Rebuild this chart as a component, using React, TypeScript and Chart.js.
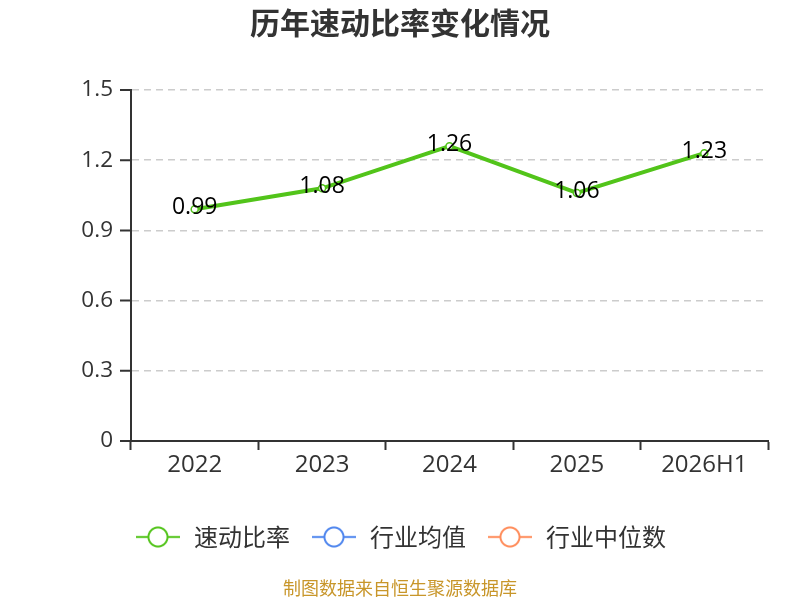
import React, { useEffect, useRef } from "react";
import { Chart, registerables } from "chart.js";

Chart.register(...registerables);

const categories = ["2022", "2023", "2024", "2025", "2026H1"];
const quickRatio = [0.99, 1.08, 1.26, 1.06, 1.23];
const industryAvg: (number | null)[] = [];
const industryMedian: (number | null)[] = [];
const yTicks = [0, 0.3, 0.6, 0.9, 1.2, 1.5];

const seriesNames = ["速动比率", "行业均值", "行业中位数"];
const seriesColors = ["#52c41a", "#4f86ee", "#ff8c5a"];

const FONT = "'Open Sans', 'Noto Sans CJK SC', sans-serif";
const CJK = "'Noto Sans CJK SC', sans-serif";

function makeIcon(color: string): HTMLCanvasElement {
  const scale = 3;
  const w = 44;
  const h = 24;
  const c = document.createElement("canvas");
  c.width = w * scale;
  c.height = h * scale;
  const ctx = c.getContext("2d")!;
  ctx.scale(scale, scale);
  ctx.strokeStyle = color;
  ctx.lineWidth = 2;
  ctx.beginPath();
  ctx.moveTo(0, h / 2);
  ctx.lineTo(w, h / 2);
  ctx.stroke();
  ctx.beginPath();
  ctx.arc(w / 2, h / 2, 9.5, 0, Math.PI * 2);
  ctx.fillStyle = "#fff";
  ctx.fill();
  ctx.stroke();
  const fin = document.createElement("canvas");
  fin.width = w;
  fin.height = h;
  const fctx = fin.getContext("2d")!;
  fctx.imageSmoothingQuality = "high";
  fctx.drawImage(c, 0, 0, w, h);
  return fin;
}

const dataLabelPlugin = {
  id: "dataLabels",
  afterDatasetsDraw(chart: any) {
    const ctx = chart.ctx;
    const meta = chart.getDatasetMeta(0);
    const values = chart.data.datasets[0].data;
    ctx.save();
    ctx.font = `23px ${FONT}`;
    ctx.fillStyle = "#000";
    ctx.textAlign = "center";
    ctx.textBaseline = "middle";
    meta.data.forEach((pt: any, i: number) => {
      ctx.fillText(values[i].toFixed(2), pt.x, pt.y - 2);
    });
    ctx.restore();
  },
};

const yAxisPlugin = {
  id: "yAxisTicks",
  afterDraw(chart: any) {
    const ctx = chart.ctx;
    const y = chart.scales.y;
    const area = chart.chartArea;
    ctx.save();
    ctx.strokeStyle = "#333";
    ctx.lineWidth = 2;
    ctx.beginPath();
    ctx.moveTo(area.left, area.top);
    ctx.lineTo(area.left, area.bottom);
    y.ticks.forEach((t: any) => {
      const py = y.getPixelForValue(t.value);
      ctx.moveTo(area.left - 11, py);
      ctx.lineTo(area.left, py);
    });
    ctx.stroke();
    ctx.restore();
  },
};

export default function App() {
  const ref = useRef<HTMLCanvasElement>(null);
  useEffect(() => {
    const icons = seriesColors.map(makeIcon);
    const chart = new Chart(ref.current!, {
      type: "line",
      data: {
        labels: categories,
        datasets: [
          {
            label: seriesNames[0],
            data: quickRatio,
            borderColor: seriesColors[0],
            backgroundColor: "#fff",
            borderWidth: 4,
            pointRadius: 3.5,
            pointBorderWidth: 1.5,
            pointBackgroundColor: "#fff",
            pointBorderColor: seriesColors[0],
            tension: 0,
          },
          {
            label: seriesNames[1],
            data: industryAvg,
            borderColor: seriesColors[1],
            backgroundColor: "#fff",
          },
          {
            label: seriesNames[2],
            data: industryMedian,
            borderColor: seriesColors[2],
            backgroundColor: "#fff",
          },
        ],
      },
      options: {
        responsive: false,
        animation: false,
        layout: { padding: { left: 0, right: 0, top: 0, bottom: 0 } },
        plugins: {
          title: {
            display: true,
            text: "历年速动比率变化情况",
            color: "#333",
            font: { family: CJK, size: 30, weight: "bold" },
            padding: { top: 4.5, bottom: 49.5 },
          },
          subtitle: {
            display: true,
            position: "bottom",
            text: "制图数据来自恒生聚源数据库",
            color: "#c8962a",
            font: { family: CJK, size: 18 },
            padding: { top: 18.2, bottom: 1.2 },
          },
          legend: {
            display: true,
            position: "bottom",
            labels: {
              usePointStyle: true,
              pointStyleWidth: 48,
              color: "#333",
              font: { family: CJK, size: 24 },
              padding: 20,
              generateLabels: (ch: any) =>
                ch.data.datasets.map((ds: any, i: number) => ({
                  text: ds.label,
                  pointStyle: icons[i],
                  fillStyle: seriesColors[i],
                  strokeStyle: seriesColors[i],
                  fontColor: "#333",
                  hidden: false,
                  datasetIndex: i,
                  lineWidth: 0,
                })),
            },
          },
          tooltip: { enabled: false },
        },
        scales: {
          x: {
            type: "category",
            offset: true,
            grid: {
              display: true,
              drawOnChartArea: false,
              drawTicks: true,
              tickLength: 9,
              tickWidth: 2,
              color: "#333",
              offset: true,
            },
            border: { display: true, color: "#333", width: 2 },
            ticks: {
              color: "#333",
              font: { family: FONT, size: 24 },
              padding: 1,
            },
            afterFit: (s: any) => {
              s.height = 64;
            },
          },
          y: {
            min: 0,
            max: 1.5,
            afterBuildTicks: (s: any) => {
              s.ticks = yTicks.map((v) => ({ value: v }));
            },
            grid: {
              color: (c: any) => (c.tick && c.tick.value === 0 ? "rgba(0,0,0,0)" : "#cccccc"),
              lineWidth: 1.5,
              drawTicks: false,
            },
            border: { display: true, color: "#333", width: 2, dash: [7, 5] },
            ticks: {
              color: "#333",
              font: { family: FONT, size: 22.5 },
              padding: 18,
              callback: (v: any) => (v === 0 ? "0" : Number(v).toFixed(1)),
            },
            afterFit: (s: any) => {
              s.width = 131;
            },
          },
          spacer: {
            type: "linear",
            position: "right",
            display: true,
            grid: { display: false, drawTicks: false },
            border: { display: false },
            ticks: { display: false },
            afterFit: (s: any) => {
              s.width = 32;
            },
          },
        },
      },
      plugins: [dataLabelPlugin, yAxisPlugin],
    } as any);
    return () => chart.destroy();
  }, []);
  return (
    <div style={{ position: "fixed", left: 0, top: 0, width: 800, height: 600, background: "#fff" }}>
      <canvas ref={ref} width={800} height={600} style={{ width: 800, height: 600 }} />
    </div>
  );
}
